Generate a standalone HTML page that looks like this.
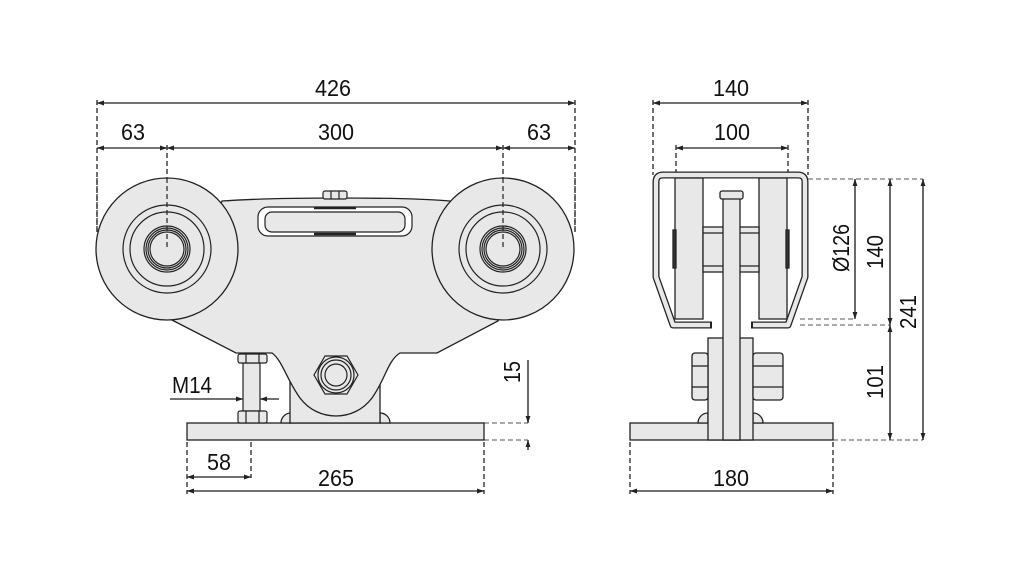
<!DOCTYPE html>
<html><head><meta charset="utf-8"><style>
html,body{margin:0;padding:0;background:#fff;}
svg{display:block;}
text{font-family:"Liberation Sans",sans-serif;font-size:23px;fill:#111;}
</style></head><body>
<svg width="1021" height="567" viewBox="0 0 1021 567" xmlns="http://www.w3.org/2000/svg">
<defs>
<marker id="a" viewBox="0 0 10 10" refX="10" refY="5" markerWidth="7" markerHeight="7" orient="auto-start-reverse" markerUnits="userSpaceOnUse"><path d="M0,1.5 L10,5 L0,8.5 Z" fill="#222"/></marker>
</defs>
<g fill="none" stroke="#222" stroke-width="1.3" stroke-dasharray="5,3">
<!-- left view extension lines -->
<line x1="97" y1="100" x2="97" y2="232"/>
<line x1="575" y1="100" x2="575" y2="232"/>
<line x1="167" y1="145" x2="167" y2="270"/>
<line x1="503" y1="145" x2="503" y2="270"/>
<line x1="187" y1="442" x2="187" y2="494"/>
<line x1="251" y1="442" x2="251" y2="478"/>
<line x1="484" y1="442" x2="484" y2="494"/>
<line x1="484" y1="423" x2="528" y2="423" stroke="#777"/>
<line x1="484" y1="440" x2="528" y2="440" stroke="#777"/>
<!-- right view -->
<line x1="653" y1="100" x2="653" y2="175"/>
<line x1="808" y1="100" x2="808" y2="175"/>
<line x1="676" y1="145" x2="676" y2="178"/>
<line x1="788" y1="145" x2="788" y2="178"/>
<line x1="808" y1="179" x2="923" y2="179" stroke="#777"/>
<line x1="800" y1="319" x2="855" y2="319" stroke="#777"/>
<line x1="800" y1="325" x2="890" y2="325" stroke="#777"/>
<line x1="833" y1="440" x2="923" y2="440" stroke="#777"/>
<line x1="630" y1="442" x2="630" y2="494"/>
<line x1="833" y1="442" x2="833" y2="494"/>
</g>

<!-- LEFT VIEW PARTS -->
<g stroke="#222" stroke-width="1.3" fill="#e8e8e8">
<!-- base plate -->
<rect x="187" y="423" width="297" height="17"/>
<!-- fillets -->
<path d="M281,423 A10,10 0 0 1 291,413 L291,423 Z"/>
<path d="M380,413 A10,10 0 0 1 390,423 L380,423 Z"/>
<!-- stand -->
<rect x="290" y="372" width="90" height="51"/>
<!-- body -->
<path d="M172,320 L236,353 L272,353 C282,360 287,380 300,398 C318,422 354,422 372,398 C385,380 388,360 400,353 L437,353 L498,321 L450,201 C400,197 280,197 222,201 Z"/>
<!-- wheels -->
<circle cx="167" cy="249" r="71"/>
<circle cx="503" cy="249" r="71"/>
</g>
<g stroke="#222" stroke-width="1.2" fill="none">
<circle cx="167" cy="249" r="44"/><circle cx="167" cy="249" r="37"/>
<circle cx="167" cy="249" r="23"/><circle cx="167" cy="249" r="21"/><circle cx="167" cy="249" r="19"/><circle cx="167" cy="249" r="17"/>
<circle cx="503" cy="249" r="44"/><circle cx="503" cy="249" r="37"/>
<circle cx="503" cy="249" r="23"/><circle cx="503" cy="249" r="21"/><circle cx="503" cy="249" r="19"/><circle cx="503" cy="249" r="17"/>
<!-- slot -->
<rect x="258" y="207" width="154" height="29" rx="10" fill="#fff"/>
<rect x="265" y="212" width="140" height="20" rx="7" fill="#e8e8e8"/>
<line x1="314" y1="208" x2="356" y2="208" stroke-width="2.5"/>
<line x1="314" y1="234" x2="356" y2="234" stroke-width="2.5"/>
<!-- top bolt -->
<rect x="323" y="191" width="24" height="8" rx="2" fill="#e8e8e8"/>
<line x1="331" y1="191" x2="331" y2="199"/><line x1="339" y1="191" x2="339" y2="199"/>
<!-- hub nut -->
<polygon points="358,375 347,394 325,394 314,375 325,356 347,356" fill="#e8e8e8"/>
<circle cx="336" cy="375" r="18"/><circle cx="336" cy="375" r="15"/><circle cx="336" cy="375" r="11"/>
<!-- stud -->
<rect x="243" y="363" width="17" height="48" fill="#e8e8e8"/>
<rect x="238" y="354" width="29" height="9" rx="2" fill="#e8e8e8"/>
<line x1="246" y1="354" x2="246" y2="363"/><line x1="259" y1="354" x2="259" y2="363"/>
<rect x="238" y="411" width="29" height="12" rx="2" fill="#e8e8e8"/>
<line x1="246" y1="411" x2="246" y2="423"/><line x1="259" y1="411" x2="259" y2="423"/>
</g>
<!-- center dashed lines over wheels -->
<g stroke="#222" stroke-width="1.2" stroke-dasharray="5,3">
<line x1="167" y1="178" x2="167" y2="250"/><line x1="503" y1="178" x2="503" y2="250"/>
<line x1="97" y1="178" x2="97" y2="232"/><line x1="575" y1="178" x2="575" y2="232"/>
</g>

<!-- RIGHT VIEW PARTS -->
<g stroke="#222" stroke-width="1.3" fill="#e8e8e8">
<rect x="630" y="423" width="203" height="17"/>
<path d="M698,423 A10,10 0 0 1 708,413 L708,423 Z"/>
<path d="M753,413 A10,10 0 0 1 763,423 L753,423 Z"/>
<rect x="708" y="338" width="45" height="102"/>
<rect x="692" y="353" width="16" height="47" rx="3"/>
<rect x="753" y="353" width="30" height="47" rx="3"/>
<line x1="692" y1="366" x2="708" y2="366"/><line x1="692" y1="387" x2="708" y2="387"/>
<line x1="753" y1="366" x2="783" y2="366"/><line x1="753" y1="387" x2="783" y2="387"/>
<rect x="675" y="178" width="28" height="141"/>
<rect x="759" y="178" width="28" height="141"/>
<rect x="673" y="230" width="3" height="38" fill="#333"/>
<rect x="786" y="230" width="3" height="38" fill="#333"/>
<rect x="703" y="227" width="56" height="45"/>
<line x1="703" y1="233" x2="759" y2="233"/><line x1="703" y1="266" x2="759" y2="266"/>
<rect x="723" y="196" width="17" height="244"/>
<rect x="720" y="191" width="23" height="8" rx="2"/>
<line x1="708" y1="423" x2="723" y2="423" stroke="none"/>
</g>
<!-- bracket -->
<path d="M711,325 L673,325 L656,277 L656,182 Q656,175 663,175 L798,175 Q805,175 805,182 L805,277 L788,325 L752,325" fill="none" stroke="#222" stroke-width="7" stroke-linejoin="round"/>
<path d="M711,325 L673,325 L656,277 L656,182 Q656,175 663,175 L798,175 Q805,175 805,182 L805,277 L788,325 L752,325" fill="none" stroke="#e8e8e8" stroke-width="4.4" stroke-linejoin="round"/>
<rect x="710" y="321.5" width="2" height="7" fill="#222"/>
<rect x="751" y="321.5" width="2" height="7" fill="#222"/>

<!-- DIMENSION LINES -->
<g stroke="#444" stroke-width="1.6" fill="none">
<line x1="97" y1="103" x2="575" y2="103" marker-start="url(#a)" marker-end="url(#a)"/>
<line x1="97" y1="148" x2="167" y2="148" marker-start="url(#a)" marker-end="url(#a)"/>
<line x1="167" y1="148" x2="503" y2="148" marker-start="url(#a)" marker-end="url(#a)"/>
<line x1="503" y1="148" x2="575" y2="148" marker-start="url(#a)" marker-end="url(#a)"/>
<line x1="187" y1="477" x2="251" y2="477" marker-start="url(#a)" marker-end="url(#a)"/>
<line x1="187" y1="491" x2="484" y2="491" marker-start="url(#a)" marker-end="url(#a)"/>
<line x1="170" y1="399" x2="243" y2="399" marker-end="url(#a)"/>
<line x1="279" y1="399" x2="260" y2="399" marker-end="url(#a)"/>
<line x1="528" y1="360" x2="528" y2="423" marker-end="url(#a)"/>
<line x1="528" y1="450" x2="528" y2="440" marker-end="url(#a)"/>
<line x1="653" y1="103" x2="808" y2="103" marker-start="url(#a)" marker-end="url(#a)"/>
<line x1="676" y1="148" x2="788" y2="148" marker-start="url(#a)" marker-end="url(#a)"/>
<line x1="630" y1="491" x2="833" y2="491" marker-start="url(#a)" marker-end="url(#a)"/>
<line x1="855" y1="179" x2="855" y2="319" marker-start="url(#a)" marker-end="url(#a)"/>
<line x1="890" y1="179" x2="890" y2="325" marker-start="url(#a)" marker-end="url(#a)"/>
<line x1="890" y1="325" x2="890" y2="440" marker-start="url(#a)" marker-end="url(#a)"/>
<line x1="923" y1="179" x2="923" y2="440" marker-start="url(#a)" marker-end="url(#a)"/>
</g>

<!-- TEXT -->
<g text-anchor="middle">
<text x="333" y="96" textLength="36" lengthAdjust="spacingAndGlyphs">426</text>
<text x="133" y="140" textLength="24" lengthAdjust="spacingAndGlyphs">63</text>
<text x="336" y="140" textLength="36" lengthAdjust="spacingAndGlyphs">300</text>
<text x="539" y="140" textLength="24" lengthAdjust="spacingAndGlyphs">63</text>
<text x="219" y="470" textLength="24" lengthAdjust="spacingAndGlyphs">58</text>
<text x="336" y="486" textLength="36" lengthAdjust="spacingAndGlyphs">265</text>
<text x="731" y="96" textLength="36" lengthAdjust="spacingAndGlyphs">140</text>
<text x="732" y="140" textLength="36" lengthAdjust="spacingAndGlyphs">100</text>
<text x="731" y="486" textLength="36" lengthAdjust="spacingAndGlyphs">180</text>
<text x="192" y="393" textLength="40" lengthAdjust="spacingAndGlyphs">M14</text>
<text transform="translate(520,372) rotate(-90)" textLength="22" lengthAdjust="spacingAndGlyphs">15</text>
<text transform="translate(849,248) rotate(-90)" textLength="48" lengthAdjust="spacingAndGlyphs">Ø126</text>
<text transform="translate(883,252) rotate(-90)" textLength="34" lengthAdjust="spacingAndGlyphs">140</text>
<text transform="translate(916,312) rotate(-90)" textLength="34" lengthAdjust="spacingAndGlyphs">241</text>
<text transform="translate(883,382) rotate(-90)" textLength="34" lengthAdjust="spacingAndGlyphs">101</text>
</g>
</svg>
</body></html>
